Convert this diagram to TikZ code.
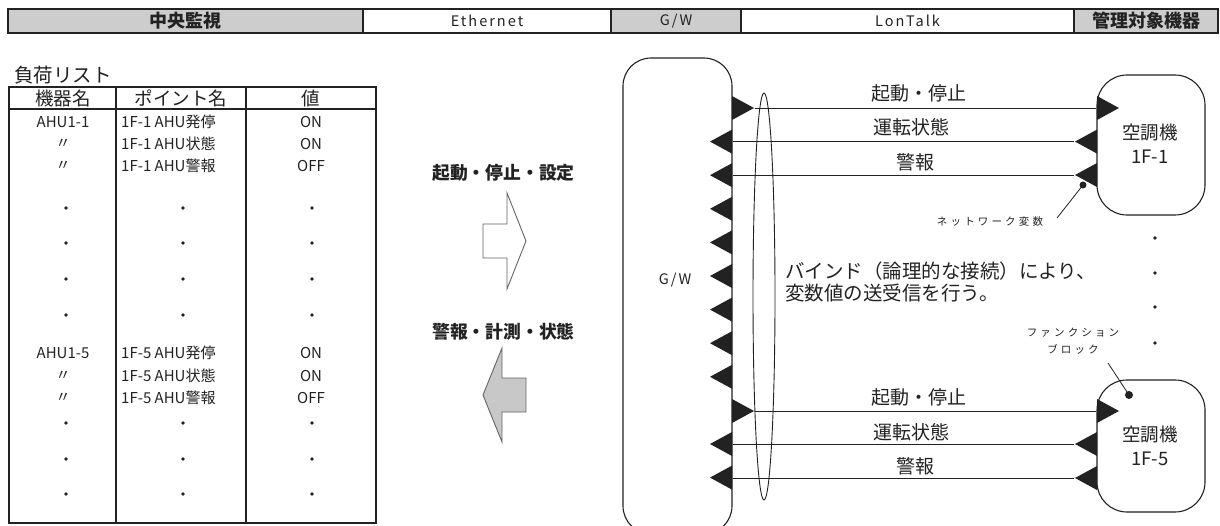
\documentclass[tikz,border=0pt]{standalone}
\usepackage{fontspec}
\setmainfont{Noto Sans CJK JP}
\newfontfamily\jpl{Noto Sans CJK JP}
\newfontfamily\jpsp{Noto Sans CJK JP}[LetterSpace=30]
\newfontfamily\jphd{Noto Sans CJK JP}[LetterSpace=14]
\usetikzlibrary{shapes.geometric,calc}
\definecolor{ink}{HTML}{222222}
\definecolor{hdrgray}{HTML}{CDCDCD}
\definecolor{arrgray}{HTML}{C8C8C8}
\tikzset{
  hdr/.style={draw=ink,line width=1.1pt,minimum height=24pt,inner sep=0pt,text=ink},
  hdrj/.style={hdr,font=\fontsize{18}{18}\jpl\bfseries},
  hdrl/.style={hdr,font=\fontsize{14.5}{14.5}\jphd},
  tcell/.style={inner sep=0pt,font=\fontsize{15}{15}\jpl,text=ink},
  thead/.style={inner sep=0pt,font=\fontsize{18.5}{18.5}\jpl,text=ink},
  lbl/.style={inner sep=0pt,font=\fontsize{19}{19}\jpl,text=ink},
  mlbl/.style={inner sep=0pt,font=\fontsize{17.8}{17.8}\jpl\bfseries,text=ink},
  small/.style={inner sep=0pt,font=\fontsize{10.5}{17}\jpsp,text=ink,align=center},
  dev/.style={draw=ink,line width=1.1pt,rounded corners=30pt,minimum width=108pt,inner sep=0pt},
  sig/.style={draw=ink,line width=0.9pt},
}
\newcommand{\ltri}[2]{\fill[ink] (#1,#2-12) -- (#1,#2+12) -- (#1-22,#2) -- cycle;}
\newcommand{\rtri}[2]{\fill[ink] (#1,#2-12) -- (#1,#2+12) -- (#1+22,#2) -- cycle;}
\newcommand{\tdot}[2]{\fill[ink] (#1,#2) circle (1.9pt);}
\begin{document}
\begin{tikzpicture}[x=1pt,y=-1pt]
\useasboundingbox (0,0) rectangle (1220,526);
\fill[white] (0,0) rectangle (1220,526);
\clip (0,0) rectangle (1220,526);
% header
\node[hdrj,fill=hdrgray,minimum width=355pt] (h1) at (185.5,21) {中央監視};
\node[hdrl,fill=white,minimum width=248pt] (h2) at (487,21) {Ethernet};
\node[hdrl,fill=hdrgray,minimum width=130pt] (h3) at (676,21) {G/W};
\node[hdrl,fill=white,minimum width=333pt] (h4) at (907.5,21) {LonTalk};
\node[hdrj,fill=hdrgray,minimum width=144pt] (h5) at (1146,21) {管理対象機器};
% table
\node[anchor=west,inner sep=0pt,font=\fontsize{19.5}{19.5}\jpl,text=ink] (ttl) at (14,75) {負荷リスト};
\draw[ink,line width=1.1pt] (9,87) rectangle (376,523);
\draw[ink,line width=1.1pt] (116,87) -- (116,523) (246,87) -- (246,523);
\draw[ink,line width=1.6pt] (9,109) -- (376,109);
\node[thead] (c1) at (63,98) {機器名};
\node[thead] (c2) at (181,98) {ポイント名};
\node[thead] (c3) at (311,98) {値};
\node[tcell] (r1a) at (63,122) {AHU1-1};
\node[tcell] (r2a) at (63,144) {〃};
\node[tcell] (r3a) at (63,166) {〃};
\node[tcell,anchor=west] (r1b) at (121,122) {1F-1 AHU発停};
\node[tcell,anchor=west] (r2b) at (121,144) {1F-1 AHU状態};
\node[tcell,anchor=west] (r3b) at (121,166) {1F-1 AHU警報};
\node[tcell] (r1c) at (311,122) {ON};
\node[tcell] (r2c) at (311,144) {ON};
\node[tcell] (r3c) at (311,166) {OFF};
\node[tcell] (r4a) at (63,353) {AHU1-5};
\node[tcell] (r5a) at (63,376) {〃};
\node[tcell] (r6a) at (63,398) {〃};
\node[tcell,anchor=west] (r4b) at (121,353) {1F-5 AHU発停};
\node[tcell,anchor=west] (r5b) at (121,376) {1F-5 AHU状態};
\node[tcell,anchor=west] (r6b) at (121,398) {1F-5 AHU警報};
\node[tcell] (r4c) at (311,353) {ON};
\node[tcell] (r5c) at (311,376) {ON};
\node[tcell] (r6c) at (311,398) {OFF};
\foreach \yy in {208,243,279,315,423,459,494}{
  \tdot{66}{\yy}\tdot{183}{\yy}\tdot{312}{\yy}
}
% middle arrows
\node[mlbl] (cmd) at (503.5,173) {起動・停止・設定};
\draw[ink!70,line width=0.9pt,fill=white] (483,224) -- (507,224) -- (507,193) -- (526,241) -- (507,289) -- (507,258) -- (483,258) -- cycle;
\node[mlbl] (mon) at (503.5,332) {警報・計測・状態};
\draw[ink!70,line width=0.9pt,fill=arrgray] (483,395) -- (502,348) -- (502,378) -- (526,378) -- (526,412) -- (502,412) -- (502,442) -- cycle;
% G/W box
\node[draw=ink,line width=1.1pt,rounded corners=28pt,minimum width=109pt,minimum height=476pt,inner sep=0pt] (gw) at (677.5,296) {};
\node[inner sep=0pt,font=\fontsize{14.5}{14.5}\jphd,text=ink] (gwl) at (675,280) {G/W};
% devices
\node[dev,minimum height=140pt] (d1) at (1151,145) {};
\node[dev,minimum height=132pt] (d5) at (1151,446) {};
\node[lbl,align=center,font=\fontsize{18.5}{24}\jpl] (d1l) at (1150,144) {空調機\\1F-1};
\node[lbl,align=center,font=\fontsize{18.5}{24}\jpl] (d5l) at (1150,446) {空調機\\1F-5};
% bind ellipse
\node[draw=ink,line width=0.9pt,ellipse,minimum width=22pt,minimum height=407pt,inner sep=0pt] (bind) at (764,296.5) {};
% signal lines
\draw[sig] ($(gw.east|-0,108)+(22,0)$) -- (d1.west|-0,108);
\draw[sig] (gw.east|-0,141.6) -- ($(d1.west|-0,141.6)+(-22,0)$);
\draw[sig] (gw.east|-0,175) -- ($(d1.west|-0,175)+(-22,0)$);
\draw[sig] ($(gw.east|-0,411)+(22,0)$) -- (d5.west|-0,411);
\draw[sig] (gw.east|-0,444) -- ($(d5.west|-0,444)+(-22,0)$);
\draw[sig] (gw.east|-0,478) -- ($(d5.west|-0,478)+(-22,0)$);
% triangles at G/W
\rtri{732}{108}
\foreach \yy in {141.6,175.2,208.8,242.4,276,309.6,343.2,376.8,444,477.6}{\ltri{732}{\yy}}
\rtri{732}{411}
% triangles at devices
\rtri{1097}{108}\ltri{1097}{141.6}\ltri{1097}{175}
\rtri{1097}{411}\ltri{1097}{444}\ltri{1097}{478}
% line labels
\node[lbl] (s1) at (919,93) {起動・停止};
\node[lbl] (s2) at (911,127) {運転状態};
\node[lbl] (s3) at (915,162) {警報};
\node[lbl] (s4) at (919,397) {起動・停止};
\node[lbl] (s5) at (911,432) {運転状態};
\node[lbl] (s6) at (915,466) {警報};
% bind text
\node[lbl,anchor=west,align=left,font=\fontsize{19.5}{22.5}\jpl] (bt) at (785,282) {バインド（論理的な接続）により、\\変数値の送受信を行う。};
% network variable
\coordinate (nvdot) at (1083,185);
\fill[ink] (nvdot) circle (3.5pt);
\node[small] (nv) at (990,222) {ネットワーク変数};
\draw[ink,line width=0.8pt] (1057,218) -- (nvdot);
% function block
\coordinate (fbdot) at (1129,395);
\fill[ink] (fbdot) circle (4pt);
\node[small] (fb) at (1073,341) {ファンクション\\ブロック};
\draw[ink,line width=0.8pt] (1108,363) -- (fbdot);
% dots
\foreach \yy in {238,273,307,343}{\tdot{1155}{\yy}}
\end{tikzpicture}
\end{document}
